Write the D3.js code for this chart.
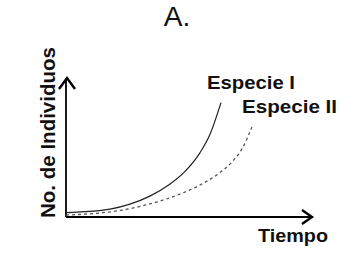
<!DOCTYPE html>
<html>
<head>
<meta charset="utf-8">
<script src="https://cdn.jsdelivr.net/npm/d3@7"></script>
<style>
  body { margin: 0; background: #fff; }
  svg { display: block; }
  text { font-family: "Liberation Sans", Arial, sans-serif; fill: #111; }
</style>
</head>
<body>
<svg id="chart"></svg>
<script>
// values (time, individuals), both on 0-100 arbitrary units
const timeI = [0, 9.8, 17.9, 26, 34.1, 42.3, 48.4, 54.5, 58.5, 63];
const valuesI = [3.2, 4, 5.7, 9.3, 15, 23.7, 32.8, 46.3, 59.3, 82.3];
const timeII = [0, 13.8, 22, 30.1, 38.2, 46.3, 54.5, 62.6, 67.5, 71.5, 75.6];
const valuesII = [1.4, 2.9, 4.7, 7.6, 11.5, 16.5, 23, 32, 39.6, 48.9, 64.7];
const seriesNames = ["Especie I", "Especie II"];

const width = 345, height = 253;
const margin = { top: 78, right: 33, bottom: 36, left: 66 };

const svg = d3.select("#chart").attr("width", width).attr("height", height);

const x = d3.scaleLinear().domain([0, 100]).range([margin.left, width - margin.right]);
const y = d3.scaleLinear().domain([0, 100]).range([height - margin.bottom, margin.top]);

const line = d3.line()
  .x((d) => x(d[0]))
  .y((d) => y(d[1]))
  .curve(d3.curveMonotoneX);

// axes with open arrow heads
const x0 = x(0), y0 = y(0), xEnd = x(100), yEnd = y(100);
svg.append("line")
  .attr("x1", x0).attr("y1", y0).attr("x2", xEnd).attr("y2", y0)
  .attr("stroke", "#000").attr("stroke-width", 1.8);
svg.append("line")
  .attr("x1", x0).attr("y1", y0).attr("x2", x0).attr("y2", yEnd)
  .attr("stroke", "#000").attr("stroke-width", 1.8);
svg.append("path")
  .attr("d", `M${xEnd - 10},${y0 - 7}L${xEnd},${y0}L${xEnd - 10},${y0 + 7}`)
  .attr("fill", "none").attr("stroke", "#000").attr("stroke-width", 2.4);
svg.append("path")
  .attr("d", `M${x0 - 7},${yEnd + 11}L${x0 + 1},${yEnd}L${x0 + 9},${yEnd + 11}`)
  .attr("fill", "none").attr("stroke", "#000").attr("stroke-width", 2.4);

// curves
svg.append("path")
  .datum(d3.zip(timeI, valuesI))
  .attr("d", line)
  .attr("fill", "none").attr("stroke", "#222").attr("stroke-width", 1.2);
svg.append("path")
  .datum(d3.zip(timeII, valuesII))
  .attr("d", line)
  .attr("fill", "none").attr("stroke", "#555").attr("stroke-width", 1.3)
  .attr("stroke-dasharray", "3,3");

// labels
svg.append("text")
  .attr("x", 177).attr("y", 26)
  .attr("text-anchor", "middle")
  .attr("font-size", 28)
  .text("A.");

svg.append("text")
  .attr("x", 207).attr("y", 89)
  .attr("font-size", 19).attr("font-weight", "bold")
  .attr("textLength", 88).attr("lengthAdjust", "spacingAndGlyphs")
  .text(seriesNames[0]);
svg.append("text")
  .attr("x", 242).attr("y", 113)
  .attr("font-size", 19).attr("font-weight", "bold")
  .attr("textLength", 95).attr("lengthAdjust", "spacingAndGlyphs")
  .text(seriesNames[1]);

svg.append("text")
  .attr("x", 258).attr("y", 242)
  .attr("font-size", 19).attr("font-weight", "bold")
  .attr("textLength", 70).attr("lengthAdjust", "spacingAndGlyphs")
  .text("Tiempo");

svg.append("text")
  .attr("transform", "translate(55,218) rotate(-90)")
  .attr("font-size", 20).attr("font-weight", "bold")
  .attr("textLength", 171).attr("lengthAdjust", "spacingAndGlyphs")
  .text("No. de Individuos");
</script>
</body>
</html>
